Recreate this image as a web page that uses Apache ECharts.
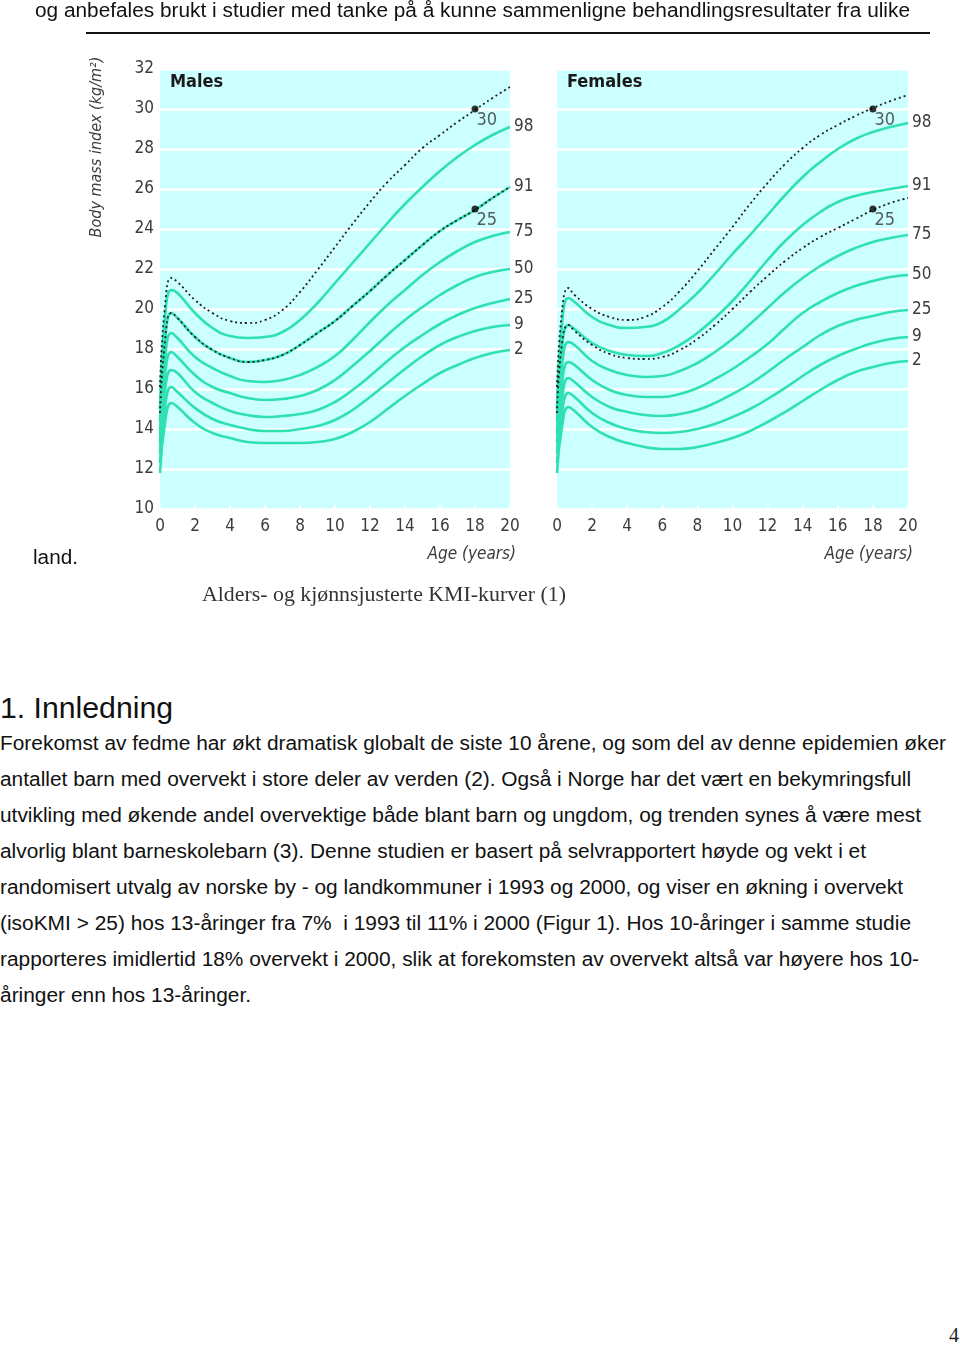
<!DOCTYPE html>
<html><head><meta charset="utf-8">
<script src="https://cdn.jsdelivr.net/npm/echarts/dist/echarts.min.js"></script>
<style>
html,body{margin:0;padding:0;background:#fff;}
body{width:960px;height:1346px;position:relative;overflow:hidden;}
#chart{position:absolute;left:0;top:0;width:960px;height:640px;}
.t{position:absolute;white-space:pre;font-family:'Liberation Sans',Arial,sans-serif;color:#111;transform-origin:0 50%;line-height:1;}
.serif{font-family:'Liberation Serif','Times New Roman',serif;color:#333;}
#rule{position:absolute;left:86px;top:32px;width:844px;height:2px;background:#111;}
</style></head><body>
<div id="chart"></div>
<div class="t" data-w="875" data-cy="10" style="left:35px;font-size:20px;">og anbefales brukt i studier med tanke på å kunne sammenligne behandlingsresultater fra ulike</div>
<div id="rule"></div>
<div class="t" data-w="45" data-cy="557" style="left:33px;font-size:20px;">land.</div>
<div class="t serif" data-w="364" data-cy="594" style="left:202px;font-size:21px;">Alders- og kjønnsjusterte KMI-kurver (1)</div>
<div class="t" data-w="173" data-cy="708" style="left:0px;font-size:29px;">1. Innledning</div>
<div class="t" data-w="946" data-cy="743" style="left:0px;font-size:20px;">Forekomst av fedme har økt dramatisk globalt de siste 10 årene, og som del av denne epidemien øker</div>
<div class="t" data-w="911" data-cy="779" style="left:0px;font-size:20px;">antallet barn med overvekt i store deler av verden (2). Også i Norge har det vært en bekymringsfull</div>
<div class="t" data-w="921" data-cy="815" style="left:0px;font-size:20px;">utvikling med økende andel overvektige både blant barn og ungdom, og trenden synes å være mest</div>
<div class="t" data-w="866" data-cy="851" style="left:0px;font-size:20px;">alvorlig blant barneskolebarn (3). Denne studien er basert på selvrapportert høyde og vekt i et</div>
<div class="t" data-w="903" data-cy="887" style="left:0px;font-size:20px;">randomisert utvalg av norske by - og landkommuner i 1993 og 2000, og viser en økning i overvekt</div>
<div class="t" data-w="911" data-cy="923" style="left:0px;font-size:20px;">(isoKMI &gt; 25) hos 13-åringer fra 7%  i 1993 til 11% i 2000 (Figur 1). Hos 10-åringer i samme studie</div>
<div class="t" data-w="919" data-cy="959" style="left:0px;font-size:20px;">rapporteres imidlertid 18% overvekt i 2000, slik at forekomsten av overvekt altså var høyere hos 10-</div>
<div class="t" data-w="251" data-cy="995" style="left:0px;font-size:20px;">åringer enn hos 13-åringer.</div>
<div class="t serif" data-w="10" data-cy="1335" style="left:949px;font-size:21px;color:#222;">4</div>
<script>
// ---- data ----
const ages = [0,0.3,0.65,1,2,3,4,5,6,7,8,9,10,11,12,13,14,15,16,17,18,19,20];
const percentileNames = ['98','91','75','50','25','9','2'];
const xTickValues = [0,2,4,6,8,10,12,14,16,18,20];
const yTickValues = [10,12,14,16,18,20,22,24,26,28,30,32];

const male98 = [15.0,19.7,20.95,20.8,19.8,19.05,18.65,18.55,18.6,18.85,19.45,20.3,21.3,22.3,23.3,24.3,25.25,26.1,26.9,27.6,28.2,28.7,29.1];
const male91 = [14.4,18.5,19.8,19.55,18.6,17.95,17.55,17.35,17.45,17.7,18.2,18.8,19.4,20.15,20.9,21.7,22.45,23.2,23.9,24.45,24.95,25.55,26.1];
const male75 = [13.8,17.6,18.8,18.55,17.6,17.05,16.65,16.4,16.35,16.45,16.7,17.1,17.65,18.45,19.35,20.2,20.95,21.7,22.35,22.9,23.35,23.65,23.85];
const male50 = [13.3,16.8,17.85,17.6,16.7,16.1,15.8,15.55,15.45,15.5,15.65,15.95,16.45,17.15,17.9,18.7,19.45,20.1,20.7,21.2,21.6,21.85,22.0];
const male25 = [12.8,16.0,16.95,16.8,15.85,15.3,14.9,14.7,14.6,14.65,14.75,14.95,15.35,15.95,16.65,17.4,18.1,18.7,19.25,19.7,20.05,20.3,20.5];
const male9  = [12.3,15.2,16.1,15.85,15.05,14.5,14.2,14.0,13.9,13.9,14.0,14.15,14.45,14.95,15.6,16.3,17.0,17.65,18.2,18.6,18.9,19.1,19.2];
const male2  = [11.8,14.4,15.3,15.1,14.3,13.8,13.55,13.35,13.3,13.3,13.3,13.35,13.5,13.85,14.35,15.0,15.65,16.25,16.8,17.2,17.55,17.8,17.95];
const maleCut30 = [16.1,20.3,21.55,21.35,20.45,19.8,19.4,19.3,19.45,19.95,20.85,21.95,23.1,24.25,25.35,26.35,27.2,28.05,28.7,29.35,29.95,30.55,31.1];
const maleCut25 = [14.8,18.5,19.8,19.55,18.6,17.95,17.55,17.35,17.45,17.7,18.2,18.8,19.4,20.15,20.9,21.7,22.45,23.2,23.9,24.45,24.95,25.55,26.1];

const female98 = [15.0,19.4,20.55,20.35,19.6,19.2,19.05,19.1,19.35,20.0,20.8,21.75,22.75,23.7,24.7,25.7,26.6,27.35,28.0,28.5,28.85,29.1,29.3];
const female91 = [14.4,18.2,19.2,19.0,18.3,17.9,17.7,17.65,17.8,18.2,18.8,19.55,20.4,21.4,22.45,23.4,24.2,24.85,25.35,25.65,25.85,26.0,26.15];
const female75 = [13.8,17.3,18.35,18.2,17.4,16.95,16.7,16.6,16.65,16.9,17.3,17.85,18.5,19.25,20.05,20.85,21.55,22.15,22.65,23.05,23.35,23.55,23.7];
const female50 = [13.3,16.4,17.35,17.2,16.45,15.95,15.7,15.6,15.6,15.75,16.05,16.5,17.0,17.6,18.25,19.05,19.8,20.35,20.8,21.15,21.4,21.6,21.7];
const female25 = [12.8,15.6,16.55,16.35,15.6,15.1,14.85,14.7,14.65,14.75,14.95,15.3,15.75,16.25,16.85,17.5,18.1,18.7,19.15,19.45,19.65,19.85,19.95];
const female9  = [12.3,14.9,15.8,15.6,14.8,14.3,14.0,13.85,13.8,13.85,14.0,14.25,14.6,15.0,15.5,16.05,16.65,17.2,17.65,18.0,18.3,18.5,18.6];
const female2  = [11.8,14.2,15.1,14.9,14.1,13.6,13.3,13.1,13.0,13.0,13.1,13.3,13.55,13.9,14.35,14.85,15.4,15.95,16.45,16.85,17.1,17.3,17.4];
const femaleCut30 = [16.1,20.0,21.05,20.7,20.0,19.6,19.45,19.6,20.1,20.9,21.9,23.0,24.1,25.25,26.3,27.25,28.05,28.7,29.2,29.65,30.05,30.4,30.7];
const femaleCut25 = [14.8,18.4,19.2,18.9,18.2,17.75,17.55,17.5,17.6,17.95,18.5,19.2,20.0,20.85,21.65,22.4,23.05,23.6,24.05,24.5,24.95,25.3,25.55];

const cutoffAge = 18;
const cutoffValues = [30, 25];

// ---- chart ----
const GREEN = '#2fe0b2';
const LBL = '#3c3c3c';
const NARROW = "'Liberation Sans Narrow','DejaVu Sans Condensed','Liberation Sans',Arial,sans-serif";
const maleSets = [male98,male91,male75,male50,male25,male9,male2];
const femaleSets = [female98,female91,female75,female50,female25,female9,female2];
const pairs = v => ages.map((a,i)=>[a,v[i]]);

function greenSeries(sets, idx){
  return sets.map((v,k)=>({
    name: percentileNames[k], type:'line', xAxisIndex:idx, yAxisIndex:idx,
    data: pairs(v), showSymbol:false, smooth:0.5,
    lineStyle:{color:GREEN,width:2.6}, z:2, silent:true,
    endLabel:{show:true, formatter:percentileNames[k], color:LBL, fontSize:17, fontFamily:NARROW, distance:4}
  }));
}
function cutSeries(v, idx){
  return {type:'line', xAxisIndex:idx, yAxisIndex:idx, data:pairs(v), showSymbol:false,
    smooth:0.5, lineStyle:{color:'#222',width:1.8,type:[2,3]}, z:3, silent:true};
}
function dotSeries(idx){
  return {type:'scatter', xAxisIndex:idx, yAxisIndex:idx, symbolSize:7, z:4,
    data: cutoffValues.map(c=>[cutoffAge,c]), itemStyle:{color:'#000'},
    label:{show:true, formatter:p=>String(p.value[1]), position:[5,6], align:'left', verticalAlign:'top',
      color:'#333', fontSize:18, fontFamily:NARROW}};
}
function xAx(idx){
  return {type:'value', gridIndex:idx, min:0, max:20, interval:2,
    axisLine:{show:false}, splitLine:{show:false},
    axisTick:{show:true, inside:true, length:4, lineStyle:{color:'#fff',width:2}},
    axisLabel:{color:LBL, fontSize:17, fontFamily:NARROW, margin:9,
      formatter:v=>xTickValues.includes(v)?String(v):''}};
}
function yAx(idx, labels){
  return {type:'value', gridIndex:idx, min:10, max:32, interval:2,
    axisLine:{show:false}, axisTick:{show:false},
    splitLine:{show:true, lineStyle:{color:'#fff',width:2.5}},
    axisLabel:{show:labels, color:LBL, fontSize:17, fontFamily:NARROW, margin:6,
      formatter:v=>yTickValues.includes(v)?String(v):''}};
}
const chart = echarts.init(document.getElementById('chart'), null, {renderer:'canvas'});
chart.setOption({
  animation:false,
  grid:[
    {left:160, top:69, width:350, height:440, show:true, backgroundColor:'#ccffff', borderWidth:0},
    {left:557, top:69, width:351, height:440, show:true, backgroundColor:'#ccffff', borderWidth:0}
  ],
  xAxis:[xAx(0), xAx(1)],
  yAxis:[yAx(0,true), yAx(1,false)],
  series:[
    ...greenSeries(maleSets,0), cutSeries(maleCut30,0), cutSeries(maleCut25,0), dotSeries(0),
    ...greenSeries(femaleSets,1), cutSeries(femaleCut30,1), cutSeries(femaleCut25,1), dotSeries(1)
  ],
  graphic:[
    {type:'text', x:170, y:82, style:{text:'Males', font:"bold 18px "+NARROW, fill:'#1a1a1a', align:'left', verticalAlign:'middle'}},
    {type:'text', x:567, y:82, style:{text:'Females', font:"bold 18px "+NARROW, fill:'#1a1a1a', align:'left', verticalAlign:'middle'}},
    {type:'text', x:516, y:555, style:{text:'Age (years)', font:"italic 17px "+NARROW, fill:LBL, align:'right', verticalAlign:'middle'}},
    {type:'text', x:913, y:555, style:{text:'Age (years)', font:"italic 17px "+NARROW, fill:LBL, align:'right', verticalAlign:'middle'}},
    {type:'text', x:97, y:147, rotation:Math.PI/2, style:{text:'Body mass index (kg/m²)', font:"italic 16px "+NARROW, fill:LBL, align:'center', verticalAlign:'middle'}}
  ]
});

// fit text lines to their measured widths
document.querySelectorAll('.t').forEach(el=>{
  const h = el.getBoundingClientRect().height;
  el.style.top = (parseFloat(el.dataset.cy) - h/2) + 'px';
  const w = el.getBoundingClientRect().width;
  const target = parseFloat(el.dataset.w);
  if (w>0 && target) el.style.transform = 'scaleX(' + (target/w).toFixed(4) + ')';
});
</script>
</body></html>
